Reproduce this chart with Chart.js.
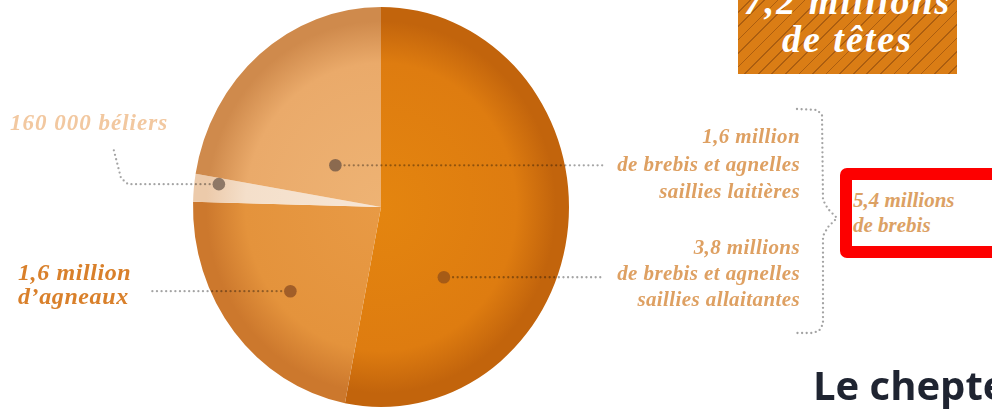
<!DOCTYPE html>
<html>
<head>
<meta charset="utf-8">
<script src="https://cdn.jsdelivr.net/npm/chart.js@4.4.1/dist/chart.umd.min.js"></script>
<style>
  html, body { margin: 0; padding: 0; background: #fff; overflow: hidden; }
  #wrap { position: relative; width: 992px; height: 409px; overflow: hidden; }
  #pie { position: absolute; left: 0; top: 0; }
  .total {
    position: absolute; left: 738px; top: 0; width: 219px; height: 74px;
    background: repeating-linear-gradient(135deg, #da7d15 0 8.4px, #ac5e10 8.4px 9.6px);
    color: #fff; text-align: center; overflow: hidden; white-space: nowrap;
    font: bold italic 38px "Liberation Serif", serif; letter-spacing: 2px;
  }
  .total div { position: absolute; left: -10px; right: -10px; top: -18px; line-height: 38px; }
  .ewes {
    position: absolute; left: 840px; top: 168px; width: 170px; height: 58px;
    border: 12px solid #fd0000; border-radius: 7px; background: #fff;
    padding: 8px 0 0 1px;
    font: bold italic 21px "Liberation Serif", serif; line-height: 25px; color: #dca164;
  }
  .headline {
    position: absolute; left: 813px; top: 358px; white-space: nowrap;
    font: 700 40px "Open Sans", sans-serif; line-height: 54px; color: #1f2431;
  }
</style>
</head>
<body>
<div id="wrap">
  <canvas id="pie" width="992" height="409"></canvas>
  <div class="total"><div id="totalText"></div></div>
  <div class="ewes" id="ewesText"></div>
  <div class="headline" id="headline"></div>
</div>
<script>
  // slices, clockwise from 12 o'clock
  const categories = [
    "Brebis et agnelles saillies allaitantes",
    "Agneaux",
    "Béliers",
    "Brebis et agnelles saillies laitières",
  ];
  const headcountMillions = [3.8, 1.6, 0.16, 1.6];
  const sliceLabels = [
    ["3,8 millions", "de brebis et agnelles", "saillies allaitantes"],
    ["1,6 million", "d’agneaux"],
    ["160 000 béliers"],
    ["1,6 million", "de brebis et agnelles", "saillies laitières"],
  ];
  const ewesLabel = ["5,4 millions", "de brebis"];
  const totalLabel = ["7,2 millions", "de têtes"];
  const headline = "Le cheptel";

  // ---- styling ----
  const SQUASH = 0.94; // the pie is drawn slightly narrower than tall
  const SLICE_COLORS = [
    { inner: "#e4850f", mid: "#de7c10", edge: "#c2640c" },
    { inner: "#e89a45", mid: "#e4933c", edge: "#cc782d" },
    { inner: "#f7e6d5", mid: "#f4dfca", edge: "#eccaaa" },
    { inner: "#eeb374", mid: "#eaaa6a", edge: "#cf8a4c" },
  ];
  const DOT_COLORS = ["#a65b16", "#a15e28", "#8e7867", "#8b6a4f"];
  const DOT_SPOTS = [
    { t: 0.714, r: 0.485 },
    { t: 0.47, r: 0.64 },
    { t: 0.75, r: 0.87 },
    { t: 0.387, r: 0.32 },
  ];
  const SCRIPT = '"Liberation Serif", serif';

  document.getElementById("totalText").innerHTML = totalLabel.join("<br>");
  document.getElementById("ewesText").innerHTML = ewesLabel.join("<br>");
  document.getElementById("headline").textContent = headline;

  function sliceFill(c) {
    const chart = c.chart;
    const col = SLICE_COLORS[c.dataIndex];
    const area = chart.chartArea;
    if (!area) return col.mid;
    const cx = (area.left + area.right) / 2;
    const cy = (area.top + area.bottom) / 2;
    const r = Math.min(area.right - area.left, area.bottom - area.top) / 2;
    const g = chart.ctx.createRadialGradient(cx, cy, 0, cx, cy, r);
    g.addColorStop(0, col.inner);
    g.addColorStop(0.72, col.mid);
    g.addColorStop(0.93, col.edge);
    g.addColorStop(1, col.edge);
    return g;
  }

  function anchor(arc, t, r) {
    const ang = arc.startAngle + t * (arc.endAngle - arc.startAngle);
    const rad = r * arc.outerRadius;
    return { x: arc.x + SQUASH * rad * Math.cos(ang), y: arc.y + rad * Math.sin(ang) };
  }

  function dotted(ctx, pts, step = 4.6, radius = 1.15) {
    let carry = 0;
    for (let i = 0; i < pts.length - 1; i++) {
      const a = pts[i], b = pts[i + 1];
      const len = Math.hypot(b.x - a.x, b.y - a.y);
      let d = carry;
      while (d <= len) {
        const k = d / len;
        ctx.beginPath();
        ctx.arc(a.x + (b.x - a.x) * k, a.y + (b.y - a.y) * k, radius, 0, Math.PI * 2);
        ctx.fill();
        d += step;
      }
      carry = d - len;
    }
  }

  const squash = {
    id: "squash",
    beforeDatasetsDraw(chart) {
      const a = chart.getDatasetMeta(0).data[0];
      const ctx = chart.ctx;
      ctx.save();
      ctx.translate(a.x, a.y);
      ctx.scale(SQUASH, 1);
      ctx.translate(-a.x, -a.y);
    },
    afterDatasetsDraw(chart) {
      chart.ctx.restore();
    },
  };

  const callouts = {
    id: "callouts",
    afterDraw(chart) {
      const ctx = chart.ctx;
      const arcs = chart.getDatasetMeta(0).data;
      const spots = arcs.map((arc, i) => anchor(arc, DOT_SPOTS[i].t, DOT_SPOTS[i].r));

      // leader lines
      ctx.save();
      ctx.globalCompositeOperation = "multiply";
      ctx.fillStyle = "#a4a4a4";
      dotted(ctx, [spots[0], { x: 604, y: spots[0].y }]);
      dotted(ctx, [spots[3], { x: 604, y: spots[3].y }]);
      dotted(ctx, [spots[1], { x: 150, y: spots[1].y }]);
      const s2 = spots[2];
      dotted(ctx, [s2, { x: 128, y: s2.y }, { x: 121, y: s2.y - 6 }, { x: 113, y: 147 }]);
      ctx.restore();

      // bracket around the two ewe groups
      ctx.save();
      ctx.fillStyle = "#a2a2a2";
      dotted(ctx, [
        { x: 797, y: 109 }, { x: 817, y: 110 }, { x: 822, y: 115 }, { x: 823, y: 200 },
        { x: 828, y: 209 }, { x: 837, y: 218 }, { x: 828, y: 227 }, { x: 823, y: 236 },
        { x: 823, y: 324 }, { x: 819, y: 331 }, { x: 812, y: 333 }, { x: 797, y: 333 },
      ]);
      ctx.restore();

      // dots
      spots.forEach((p, i) => {
        ctx.beginPath();
        ctx.fillStyle = DOT_COLORS[i];
        ctx.arc(p.x, p.y, 6.3, 0, Math.PI * 2);
        ctx.fill();
      });

      // labels
      ctx.save();
      ctx.textBaseline = "alphabetic";
      ctx.fillStyle = "#dea062";
      ctx.textAlign = "right";
      ctx.letterSpacing = "0.4px";
      ctx.font = "bold italic 21px " + SCRIPT;
      [254, 280, 306].forEach((y, k) => ctx.fillText(sliceLabels[0][k], 800, y));
      [143, 171, 198].forEach((y, k) => ctx.fillText(sliceLabels[3][k], 800, y));

      ctx.textAlign = "left";
      ctx.fillStyle = "#d9802b";
      ctx.letterSpacing = "0.6px";
      ctx.font = "bold italic 24px " + SCRIPT;
      [280, 304].forEach((y, k) => ctx.fillText(sliceLabels[1][k], 18, y));

      ctx.fillStyle = "#f2c8a0";
      ctx.letterSpacing = "1px";
      ctx.font = "bold italic 23px " + SCRIPT;
      ctx.fillText(sliceLabels[2][0], 10, 130);
      ctx.restore();
    },
  };

  new Chart(document.getElementById("pie"), {
    type: "pie",
    data: {
      labels: categories,
      datasets: [{
        data: headcountMillions,
        backgroundColor: sliceFill,
        borderWidth: 0,
        hoverOffset: 0,
      }],
    },
    options: {
      responsive: false,
      devicePixelRatio: 1,
      animation: false,
      events: [],
      layout: { padding: { left: 181, right: 411, top: 7, bottom: 2 } },
      plugins: { legend: { display: false }, tooltip: { enabled: false } },
    },
    plugins: [squash, callouts],
  });
</script>
</body>
</html>
